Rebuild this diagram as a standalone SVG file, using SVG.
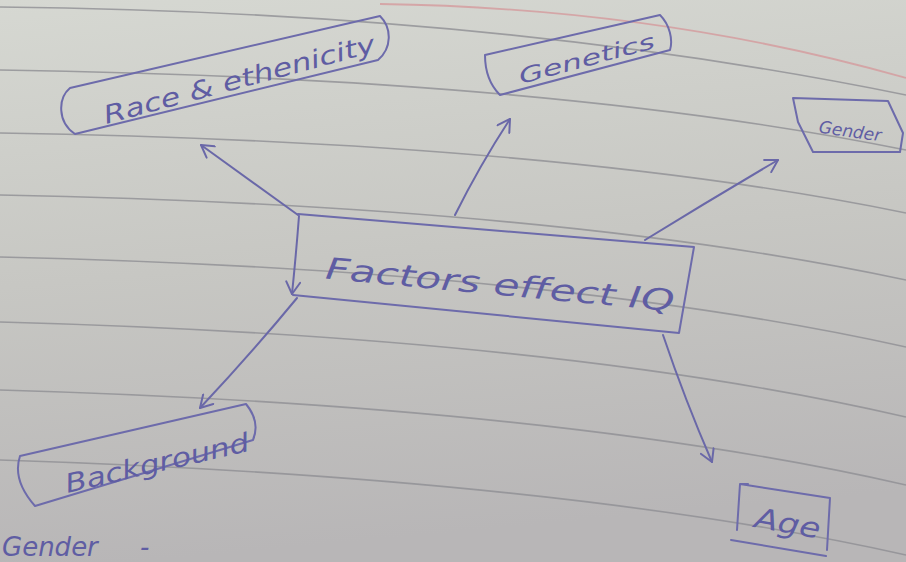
<svg xmlns="http://www.w3.org/2000/svg" width="906" height="562" viewBox="0 0 906 562">
<defs>
<linearGradient id="paper" x1="0" y1="0" x2="0.15" y2="1">
<stop offset="0" stop-color="#d6d8d2"/>
<stop offset="0.5" stop-color="#c7c7c3"/>
<stop offset="1" stop-color="#b8b6b7"/>
</linearGradient>
<marker id="v" viewBox="0 0 16 16" refX="14" refY="8" markerWidth="16" markerHeight="16" markerUnits="userSpaceOnUse" orient="auto">
<path d="M2,1 L14,8 L2,15" fill="none" stroke="#6a68a8" stroke-width="2" stroke-linecap="round" stroke-linejoin="round"/>
</marker>
<style>
.rule{fill:none;stroke:#8e8e94;stroke-width:1.6;opacity:0.8}
.box{fill:none;stroke:#6d6bab;stroke-width:2;stroke-linejoin:round;stroke-linecap:round}
.ink{fill:#5f5da3;font-family:"DejaVu Sans","Liberation Sans",sans-serif;font-style:italic}
.arr{fill:none;stroke:#6a68a8;stroke-width:2;stroke-linecap:round;marker-end:url(#v)}
</style>
</defs>
<rect width="906" height="562" fill="url(#paper)"/>
<g id="paper-lines">
<path class="rule" d="M0,7 Q500,12 906,95"/>
<path class="rule" d="M0,70 Q550,78 906,150"/>
<path class="rule" d="M0,133 Q560,142 906,213"/>
<path class="rule" d="M0,195 Q560,206 906,280"/>
<path class="rule" d="M0,257 Q560,270 906,347"/>
<path class="rule" d="M0,322 Q560,337 906,417"/>
<path class="rule" d="M0,390 Q560,406 906,485"/>
<path class="rule" d="M0,460 Q560,478 906,555"/>
<path d="M380,4 Q660,8 906,78" fill="none" stroke="#d49a9c" stroke-width="1.8" opacity="0.8"/>
</g>
<g id="connectors">
<path class="arr" d="M298,215 L201,145"/>
<path class="arr" d="M455,215 Q480,165 510,119"/>
<path class="arr" d="M645,240 Q710,200 778,160"/>
<path class="arr" d="M299,216 Q296,255 292,294"/>
<path class="arr" d="M297,298 Q250,355 200,408"/>
<path class="arr" d="M663,335 Q685,400 712,462"/>
</g>
<g id="race">
<path class="box" d="M70,88 C58,98 57,122 75,134 L378,60 C392,48 392,28 380,16 Z"/>
<text class="ink" x="240" y="88" font-size="25" text-anchor="middle" textLength="280" lengthAdjust="spacingAndGlyphs" transform="rotate(-15 240 82)">Race &amp; ethenicity</text>
</g>
<g id="genetics">
<path class="box" d="M485,55 L660,15 C670,25 673,40 670,50 L500,95 Q485,80 485,55 Z"/>
<text class="ink" x="587" y="66" font-size="21" text-anchor="middle" textLength="140" lengthAdjust="spacingAndGlyphs" transform="rotate(-15 587 60)">Genetics</text>
</g>
<g id="gender">
<path class="box" d="M793,98 L888,101 L903,133 L900,152 L813,152 L798,122 Z"/>
<text class="ink" x="850" y="137" font-size="17" text-anchor="middle" transform="rotate(8 850 132)">Gender</text>
</g>
<g id="factors">
<path class="box" d="M298,214 L694,247 L679,333 L293,295"/>
<text class="ink" x="500" y="295" font-size="30" text-anchor="middle" textLength="350" lengthAdjust="spacingAndGlyphs" transform="rotate(5.4 500 285)">Factors effect IQ</text>
</g>
<g id="background">
<path class="box" d="M20,456 L246,404 C255,415 258,428 253,440 L35,506 Q12,480 20,456 Z"/>
<text class="ink" x="157" y="472" font-size="26" text-anchor="middle" textLength="188" lengthAdjust="spacingAndGlyphs" transform="rotate(-13 157 463)">Background</text>
</g>
<g id="age">
<path class="box" d="M748,484 L740,484 L737,530 M740,484 L830,498 L827,550 M731,540 L826,556"/>
<text class="ink" x="788" y="533" font-size="28" text-anchor="middle" textLength="66" lengthAdjust="spacingAndGlyphs" transform="rotate(10 788 522)">Age</text>
</g>
<text class="ink" x="2" y="556" font-size="26">Gender<tspan x="140">-</tspan></text>
</svg>
